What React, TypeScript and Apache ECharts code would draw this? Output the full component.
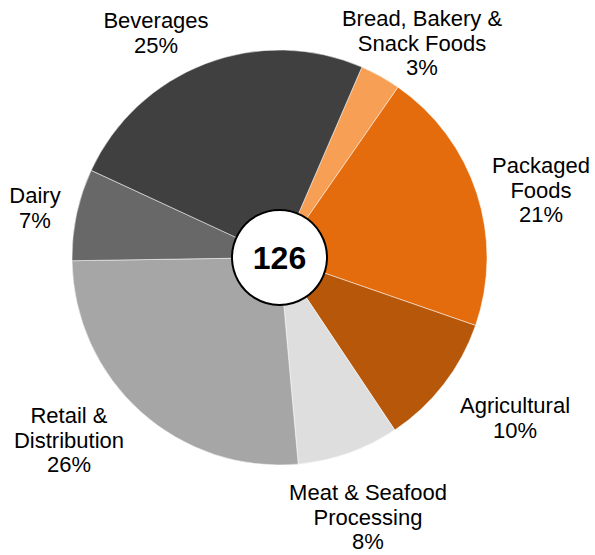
import React, { useEffect, useRef } from "react";
import * as echarts from "echarts";

const categories = [
  "Bread, Bakery &\nSnack Foods",
  "Packaged\nFoods",
  "Agricultural",
  "Meat & Seafood\nProcessing",
  "Retail &\nDistribution",
  "Dairy",
  "Beverages",
];
const counts = [4, 26, 13, 10, 33, 9, 31];
const colors = ["#F7A055", "#E46C0D", "#B65709", "#DEDEDE", "#A6A6A6", "#686868", "#404040"];

// label box centres (layout only)
const labelAnchors: [number, number][] = [
  [422, 43],
  [541, 190],
  [515, 418],
  [368, 517],
  [69, 440],
  [35, 208],
  [156, 33],
];

const FONT = "'Liberation Sans', Arial, Helvetica, sans-serif";

export default function App() {
  const ref = useRef<HTMLDivElement>(null);
  useEffect(() => {
    document.body.style.margin = "0";
    if (!ref.current) return;
    const chart = echarts.init(ref.current, null, { renderer: "svg" });
    const total = counts.reduce((a, b) => a + b, 0);
    const center = [279.5, 257.5];
    chart.setOption({
      animation: false,
      backgroundColor: "#ffffff",
      series: [
        {
          type: "pie",
          center,
          radius: [0, 207.5],
          startAngle: 66.6,
          clockwise: true,
          avoidLabelOverlap: false,
          percentPrecision: 0,
          silent: true,
          itemStyle: { borderColor: "#ffffff", borderWidth: 0.5 },
          label: {
            show: true,
            position: "outside",
            formatter: "{b}\n{d}%",
            fontFamily: FONT,
            fontSize: 22,
            lineHeight: 24.5,
            color: "#000000",
            align: "center",
          },
          labelLine: { show: false },
          labelLayout: (params: any) => {
            const p = labelAnchors[params.dataIndex];
            return { x: p[0], y: p[1], align: "center", verticalAlign: "middle" };
          },
          data: categories.map((name, i) => ({
            name,
            value: counts[i],
            itemStyle: { color: colors[i] },
          })),
        },
        {
          type: "pie",
          center,
          radius: [0, 47.5],
          silent: true,
          itemStyle: { color: "#ffffff", borderColor: "#000000", borderWidth: 2 },
          label: {
            show: true,
            position: "center",
            formatter: String(total),
            fontFamily: FONT,
            fontSize: 32,
            fontWeight: "bold",
            color: "#000000",
          },
          labelLine: { show: false },
          data: [{ name: "total", value: total }],
        },
      ],
    });
    return () => chart.dispose();
  }, []);
  return <div ref={ref} style={{ width: 595, height: 555 }} />;
}
